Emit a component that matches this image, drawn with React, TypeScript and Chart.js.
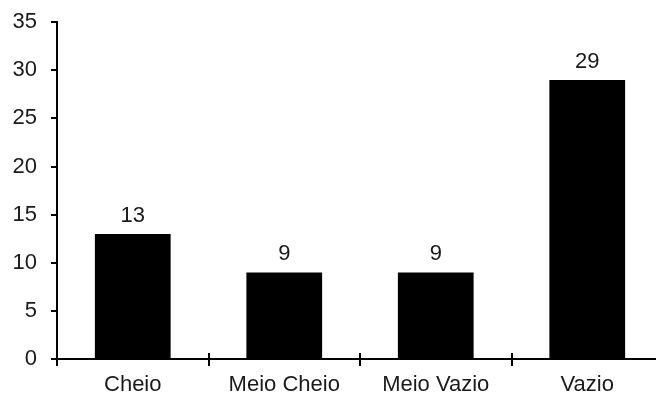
import React, { useEffect, useRef } from "react";
import { Chart, registerables } from "chart.js";

Chart.register(...registerables);

const categories = ["Cheio", "Meio Cheio", "Meio Vazio", "Vazio"];
const values = [13, 9, 9, 29];
const yMin = 0;
const yMax = 35;
const yStep = 5;

const FONT = "'Liberation Sans', Arial, Helvetica, sans-serif";
const TEXT = "#1a1a1a";
const FS = 22;

const decorPlugin = {
  id: "decor",
  afterDatasetsDraw(chart: any) {
    const { ctx, chartArea, scales } = chart;
    const y = scales.y;
    ctx.save();
    ctx.fillStyle = TEXT;
    ctx.font = `${FS}px ${FONT}`;
    ctx.textAlign = "center";
    ctx.textBaseline = "alphabetic";
    const meta = chart.getDatasetMeta(0);
    meta.data.forEach((bar: any, i: number) => {
      ctx.fillText(String(values[i]), bar.x, bar.y - 12);
    });
    ctx.strokeStyle = "#000";
    ctx.lineWidth = 2;
    const n = categories.length;
    const w = (chartArea.right - chartArea.left) / n;
    const base = y.getPixelForValue(0);
    for (let i = 0; i <= n; i++) {
      const px = Math.round(chartArea.left + i * w);
      ctx.beginPath();
      ctx.moveTo(px, base - 6);
      ctx.lineTo(px, base + 7);
      ctx.stroke();
    }
    ctx.restore();
  },
};

export default function App() {
  const ref = useRef<HTMLCanvasElement | null>(null);
  useEffect(() => {
    if (!ref.current) return;
    const chart = new Chart(ref.current, {
      type: "bar",
      data: {
        labels: categories,
        datasets: [
          {
            data: values,
            backgroundColor: "#000",
            borderWidth: 0,
            categoryPercentage: 1,
            barPercentage: 0.5,
          },
        ],
      },
      options: {
        animation: false,
        responsive: false,
        devicePixelRatio: 1,
        layout: { padding: { top: 16, right: 17, left: 0, bottom: 0 } },
        plugins: { legend: { display: false }, tooltip: { enabled: false } },
        scales: {
          x: {
            grid: { display: false, drawTicks: false },
            border: { display: true, color: "#000", width: 2 },
            ticks: {
              color: TEXT,
              font: { family: FONT, size: FS },
              padding: 13,
              maxRotation: 0,
              autoSkip: false,
            },
            afterFit(scale: any) {
              scale.height = 37;
            },
          },
          y: {
            min: yMin,
            max: yMax,
            grid: {
              drawOnChartArea: false,
              drawTicks: true,
              tickLength: 6,
              color: "#000",
              lineWidth: 2,
            },
            border: { display: true, color: "#000", width: 2 },
            ticks: {
              stepSize: yStep,
              color: TEXT,
              font: { family: FONT, size: FS },
              padding: 14,
            },
            afterFit(scale: any) {
              scale.width = 57;
            },
          },
        },
      },
      plugins: [decorPlugin],
    });
    return () => chart.destroy();
  }, []);
  return (
    <div
      style={{
        position: "fixed",
        left: 0,
        top: 0,
        width: 656,
        height: 396,
        overflow: "hidden",
        background: "#fff",
      }}
    >
      <canvas
        ref={ref}
        width={680}
        height={401}
        style={{ display: "block", position: "absolute", left: 0, top: -5 }}
      />
    </div>
  );
}
